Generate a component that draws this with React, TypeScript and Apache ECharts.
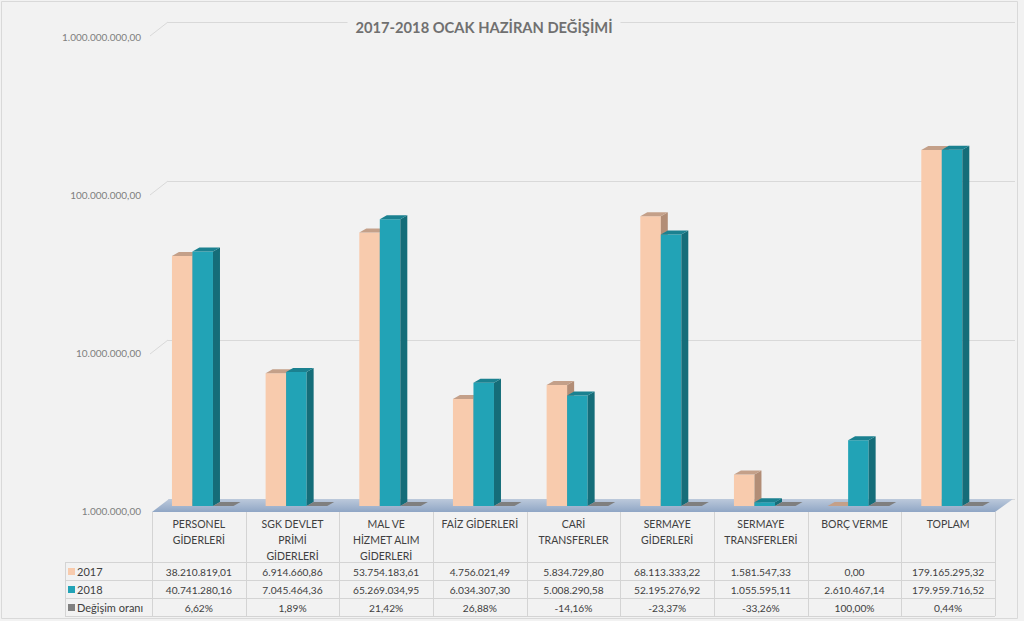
import React, { useEffect, useRef } from "react";
import * as echarts from "echarts";

const titleText = "2017-2018 OCAK HAZİRAN DEĞİŞİMİ";
const categories = [
  "PERSONEL\nGİDERLERİ",
  "SGK DEVLET\nPRİMİ\nGİDERLERİ",
  "MAL VE\nHİZMET ALIM\nGİDERLERİ",
  "FAİZ GİDERLERİ",
  "CARİ\nTRANSFERLER",
  "SERMAYE\nGİDERLERİ",
  "SERMAYE\nTRANSFERLERİ",
  "BORÇ VERME",
  "TOPLAM",
];
const values2017 = [38210819.01, 6914660.86, 53754183.61, 4756021.49, 5834729.8, 68113333.22, 1581547.33, 0, 179165295.32];
const values2018 = [40741280.16, 7045464.36, 65269034.95, 6034307.3, 5008290.58, 52195276.92, 1055595.11, 2610467.14, 179959716.52];
const changeRates = [6.62, 1.89, 21.42, 26.88, -14.16, -23.37, -33.26, 100.0, 0.44];
const seriesNames = ["2017", "2018", "Değişim oranı"];
const yMin = 1e6;
const yMax = 1e9;
const yTicks = [1e6, 1e7, 1e8, 1e9];

const FONT = "Lato, 'DejaVu Sans', sans-serif";
const seriesColors = [
  { front: "#F8CBAD", top: "#C4A089", side: "#B28D76" },
  { front: "#22A3B6", top: "#1B8190", side: "#156D79" },
  { front: "#808080", top: "#7F7F7F", side: "#6E6E6E" },
];

function fmtNum(v: number): string {
  const [i, d] = Math.abs(v).toFixed(2).split(".");
  return (v < 0 ? "-" : "") + i.replace(/\B(?=(\d{3})+(?!\d))/g, ".") + "," + d;
}
function fmtPct(v: number): string {
  return (v < 0 ? "-" : "") + Math.abs(v).toFixed(2).replace(".", ",") + "%";
}

// layout
const PLOT_L = 152;
const PLOT_R = 995;
const FLOOR_Y = 506;
const TOP_Y = 32;
const BACK_L = 168;
const BACK_R = 1015;
const BACK_TOP = 22;
const BACK_BOT = 499;
const DX = 7;
const DY = -4;
const TABLE_TOP = 512;
const HEADER_H = 50;
const ROW_H = 18;
const ROWHEAD_L = 65;
const LINE_C = "#D4D4D4";
const TEXT_C = "#404040";

function make3D(sIdx: number) {
  const c = seriesColors[sIdx];
  return (params: any, api: any) => {
    const idx = api.value(0);
    const val = api.value(1);
    const cs = params.coordSys;
    const band = cs.width / categories.length;
    const w = band * 0.219;
    const x0 = cs.x + idx * band + band * 0.213 + sIdx * w;
    const yb = cs.y + cs.height;
    const yt = val > yMin ? api.coord([idx, val])[1] : yb;
    const children: any[] = [];
    if (yb - yt > 0.5) {
      children.push({
        type: "rect",
        shape: { x: x0, y: yt, width: w, height: yb - yt },
        style: { fill: c.front },
      });
      children.push({
        type: "polygon",
        shape: { points: [[x0 + w, yt], [x0 + w + DX, yt + DY], [x0 + w + DX, yb + DY], [x0 + w, yb]] },
        style: { fill: c.side },
      });
    }
    children.push({
      type: "polygon",
      shape: { points: [[x0, yt], [x0 + w, yt], [x0 + w + DX, yt + DY], [x0 + DX, yt + DY]] },
      style: { fill: c.top },
    });
    return { type: "group", children };
  };
}

function buildGraphics(): any[] {
  const g: any[] = [];
  // outer border
  g.push({
    type: "rect", z: 0,
    shape: { x: 1.5, y: 1.5, width: 1016, height: 617 },
    style: { fill: "none", stroke: "#D9D9D9", lineWidth: 1 },
  });
  // diagonal connectors for gridlines
  const decade = (BACK_BOT - BACK_TOP) / 3;
  yTicks.slice(1).forEach((t) => {
    const k = Math.log10(yMax) - Math.log10(t);
    const yb = BACK_TOP + k * decade;
    g.push({
      type: "line", z: 1,
      shape: { x1: 150, y1: yb + 14, x2: BACK_L, y2: yb },
      style: { stroke: "#D9D9D9", lineWidth: 1 },
    });
  });
  // floor
  g.push({
    type: "polygon", z: 1,
    shape: { points: [[PLOT_L, TABLE_TOP], [PLOT_R, TABLE_TOP], [PLOT_R + 18, BACK_BOT], [PLOT_L + 17, BACK_BOT]] },
    style: {
      fill: new echarts.graphic.LinearGradient(0, 0, 0, 1, [
        { offset: 0, color: "#BCC9DB" },
        { offset: 1, color: "#8FA6C5" },
      ]),
    },
  });
  // title
  g.push({
    type: "text", z: 10,
    x: 484, y: 27,
    style: {
      text: titleText,
      fill: "#707070",
      font: `bold 14.7px ${FONT}`,
      align: "center",
      verticalAlign: "middle",
      backgroundColor: "#F2F2F2",
      padding: [3, 8],
    },
  });
  // table
  const n = categories.length;
  const colW = (PLOT_R - PLOT_L) / n;
  const rowsTop = TABLE_TOP + HEADER_H;
  const bottom = rowsTop + 3 * ROW_H;
  for (let r = 0; r <= 3; r++) {
    const y = rowsTop + r * ROW_H + 0.5;
    g.push({
      type: "line", z: 1,
      shape: { x1: ROWHEAD_L, y1: y, x2: PLOT_R, y2: y },
      style: { stroke: LINE_C, lineWidth: 1 },
    });
  }
  for (let c = 0; c <= n; c++) {
    const x = Math.round(PLOT_L + c * colW) + 0.5;
    g.push({
      type: "line", z: 1,
      shape: { x1: x, y1: TABLE_TOP, x2: x, y2: bottom },
      style: { stroke: LINE_C, lineWidth: 1 },
    });
  }
  g.push({
    type: "line", z: 1,
    shape: { x1: ROWHEAD_L + 0.5, y1: rowsTop, x2: ROWHEAD_L + 0.5, y2: bottom },
    style: { stroke: LINE_C, lineWidth: 1 },
  });
  categories.forEach((cat, i) => {
    g.push({
      type: "text", z: 2,
      x: PLOT_L + (i + 0.5) * colW, y: TABLE_TOP + 4,
      style: {
        text: cat, fill: TEXT_C, font: `10.5px ${FONT}`,
        align: "center", verticalAlign: "top", lineHeight: 16,
      },
    });
  });
  const rows = [values2017.map(fmtNum), values2018.map(fmtNum), changeRates.map(fmtPct)];
  rows.forEach((row, r) => {
    const yc = rowsTop + r * ROW_H + ROW_H / 2 + 0.5;
    g.push({
      type: "rect", z: 2,
      shape: { x: 68, y: yc - 3.5, width: 7, height: 7 },
      style: { fill: seriesColors[r].front },
    });
    g.push({
      type: "text", z: 2,
      x: 77, y: yc,
      style: { text: seriesNames[r], fill: TEXT_C, font: `11px ${FONT}`, align: "left", verticalAlign: "middle" },
    });
    row.forEach((txt, i) => {
      g.push({
        type: "text", z: 2,
        x: PLOT_L + (i + 0.5) * colW, y: yc,
        style: { text: txt, fill: TEXT_C, font: `10.2px ${FONT}`, align: "center", verticalAlign: "middle" },
      });
    });
  });
  return g;
}

export default function App() {
  const ref = useRef<HTMLDivElement>(null);
  useEffect(() => {
    if (!ref.current) return;
    const chart = echarts.init(ref.current, undefined, { renderer: "svg" });
    const idx = categories.map((_, i) => i);
    chart.setOption({
      animation: false,
      backgroundColor: "#F2F2F2",
      grid: [
        { left: PLOT_L, right: 1024 - PLOT_R, top: TOP_Y, bottom: 621 - FLOOR_Y },
        { left: BACK_L, right: 1024 - BACK_R, top: BACK_TOP, bottom: 621 - BACK_BOT },
      ],
      xAxis: [
        { type: "category", gridIndex: 0, data: categories, show: false },
        { type: "category", gridIndex: 1, data: categories, show: false },
      ],
      yAxis: [
        {
          type: "log", gridIndex: 0, min: yMin, max: yMax, logBase: 10,
          axisLine: { show: false }, axisTick: { show: false }, splitLine: { show: false },
          axisLabel: {
            show: true, margin: 11, color: "#7F7F7F", fontSize: 10, fontFamily: FONT,
            verticalAlign: "top", lineHeight: 10,
            formatter: (v: number) => fmtNum(v),
          },
        },
        {
          type: "log", gridIndex: 1, min: yMin, max: yMax, logBase: 10,
          axisLine: { show: false }, axisTick: { show: false }, axisLabel: { show: false },
          splitLine: { show: true, lineStyle: { color: "#D9D9D9", width: 1 } },
        },
      ],
      series: [
        {
          type: "custom", name: seriesNames[0], xAxisIndex: 0, yAxisIndex: 0, z: 3,
          renderItem: make3D(0), data: idx.map((i) => [i, values2017[i]]),
        },
        {
          type: "custom", name: seriesNames[1], xAxisIndex: 0, yAxisIndex: 0, z: 4,
          renderItem: make3D(1), data: idx.map((i) => [i, values2018[i]]),
        },
        {
          type: "custom", name: seriesNames[2], xAxisIndex: 0, yAxisIndex: 0, z: 5,
          renderItem: make3D(2), data: idx.map((i) => [i, changeRates[i]]),
        },
        {
          type: "line", xAxisIndex: 1, yAxisIndex: 1, data: [], silent: true,
        },
      ],
      graphic: buildGraphics(),
    });
    return () => chart.dispose();
  }, []);
  return (
    <div
      ref={ref}
      style={{ position: "fixed", left: 0, top: 0, width: 1024, height: 621, background: "#F2F2F2" }}
    />
  );
}
